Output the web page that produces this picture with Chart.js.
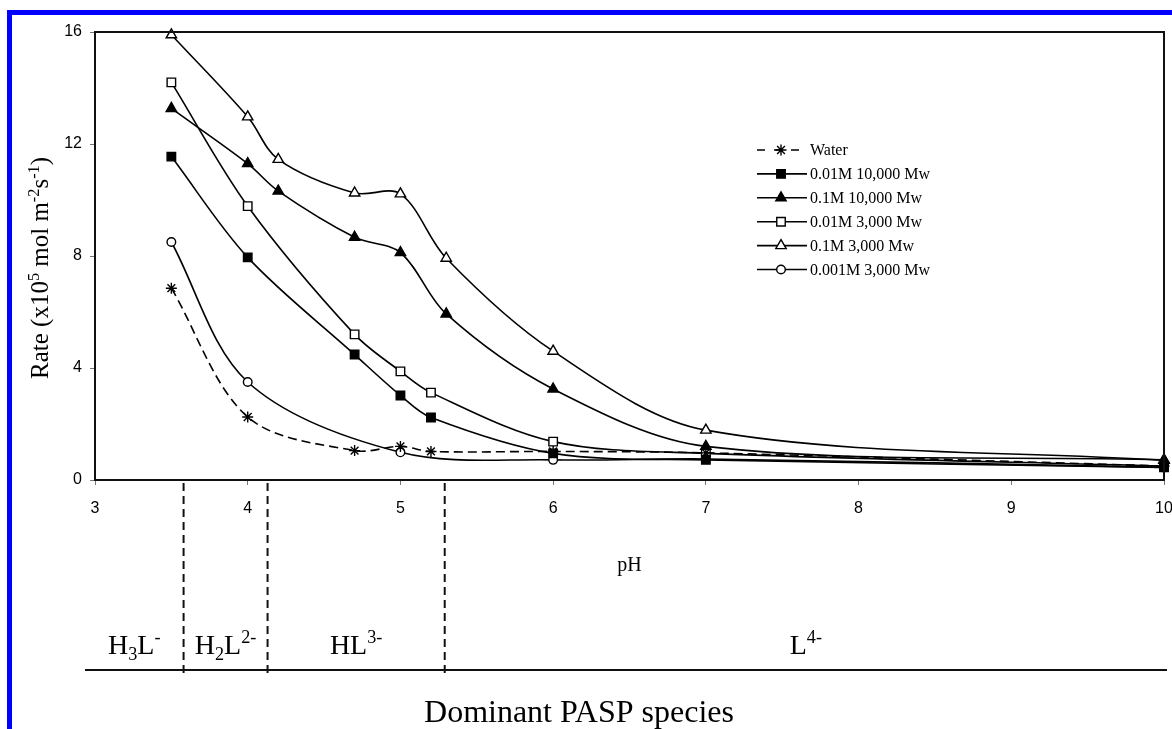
<!DOCTYPE html>
<html><head><meta charset="utf-8">
<script src="https://cdn.jsdelivr.net/npm/chart.js@4/dist/chart.umd.min.js"></script>
<style>html,body{margin:0;padding:0;background:#fff;overflow:hidden}#wrap{position:relative;width:1172px;height:729px}</style>
</head><body><div id="wrap"><canvas id="c" width="1172" height="729"></canvas></div>
<script>
// ---- data ----
const seriesLabels = ['Water', '0.01M 10,000 Mw', '0.1M 10,000 Mw', '0.01M 3,000 Mw', '0.1M 3,000 Mw', '0.001M 3,000 Mw'];
const pHWater   = [3.5, 4, 4.7, 5, 5.2, 6, 7, 10];
const rateWater = [6.85, 2.25, 1.05, 1.2, 1.02, 1.02, 0.97, 0.5];
const pH001M10k   = [3.5, 4, 4.7, 5, 5.2, 6, 7, 10];
const rate001M10k = [11.55, 7.95, 4.48, 3.02, 2.23, 0.95, 0.72, 0.45];
const pH01M10k   = [3.5, 4, 4.2, 4.7, 5, 5.3, 6, 7, 10];
const rate01M10k = [13.27, 11.3, 10.32, 8.67, 8.12, 5.93, 3.25, 1.2, 0.72];
const pH001M3k   = [3.5, 4, 4.7, 5, 5.2, 6, 7, 10];
const rate001M3k = [14.2, 9.78, 5.2, 3.88, 3.12, 1.37, 0.95, 0.5];
const pH01M3k   = [3.5, 4, 4.2, 4.7, 5, 5.3, 6, 7, 10];
const rate01M3k = [15.9, 12.97, 11.45, 10.25, 10.22, 7.92, 4.6, 1.78, 0.7];
const pH0001M3k   = [3.5, 4, 5, 6, 7, 10];
const rate0001M3k = [8.5, 3.5, 0.99, 0.72, 0.75, 0.45];
const xTicks = [3, 4, 5, 6, 7, 8, 9, 10];
const yTicks = [0, 4, 8, 12, 16];
// species boundaries (pH) and labels
const speciesBounds = [3.58, 4.13, 5.29];
const speciesLabels = [
  [['H', 0], ['3', -1], ['L', 0], ['-', 1]],
  [['H', 0], ['2', -1], ['L', 0], ['2-', 1]],
  [['HL', 0], ['3-', 1]],
  [['L', 0], ['4-', 1]]
];
const yTitle = [['Rate (x10', 0], ['5', 1], [' mol m', 0], ['-2', 1], ['s', 0], ['-1', 1], [')', 0]];
const xTitle = 'pH';
const bottomTitle = 'Dominant PASP species';

const SERIF = '"Liberation Serif","Times New Roman",serif';
const SANS = '"Liberation Sans",Arial,sans-serif';

function pts(xs, ys) { return xs.map((x, i) => ({ x: x, y: ys[i] })); }
function ds(label, xs, ys, style, filled, radius, dash) {
  return {
    label: label, data: pts(xs, ys),
    borderColor: '#000', borderWidth: 1.6, borderDash: dash || [],
    pointStyle: style, pointRadius: radius, pointHoverRadius: radius,
    pointBackgroundColor: filled ? '#000' : '#fff', pointBorderColor: '#000', pointBorderWidth: 1.4,
    tension: 0.33, clip: false, fill: false
  };
}
const datasets = [
  ds(seriesLabels[0], pHWater, rateWater, 'star', false, 5.5, [9, 5]),
  ds(seriesLabels[1], pH001M10k, rate001M10k, 'rect', true, 6),
  ds(seriesLabels[2], pH01M10k, rate01M10k, 'triangle', true, 6),
  ds(seriesLabels[3], pH001M3k, rate001M3k, 'rect', false, 6),
  ds(seriesLabels[4], pH01M3k, rate01M3k, 'triangle', false, 6),
  ds(seriesLabels[5], pH0001M3k, rate0001M3k, 'circle', false, 4.3)
];

function richWidth(ctx, parts, size) {
  let w = 0;
  for (const [t, m] of parts) { ctx.font = (m ? size * 0.65 : size) + 'px ' + SERIF; w += ctx.measureText(t).width; }
  return w;
}
function drawRich(ctx, parts, x, y, size) {
  let cx = x - richWidth(ctx, parts, size) / 2;
  ctx.textAlign = 'left'; ctx.textBaseline = 'alphabetic';
  for (const [t, m] of parts) {
    const s = m ? size * 0.65 : size;
    ctx.font = s + 'px ' + SERIF;
    const dy = m === 1 ? -size * 0.38 : (m === -1 ? size * 0.2 : 0);
    ctx.fillText(t, cx, y + dy);
    cx += ctx.measureText(t).width;
  }
}

const decor = {
  id: 'decor',
  beforeDraw(chart) {
    const ctx = chart.ctx;
    ctx.save();
    ctx.fillStyle = '#fff'; ctx.fillRect(0, 0, chart.width, chart.height);
    ctx.fillStyle = '#0000ff';
    ctx.fillRect(7, 10, chart.width - 7, 5);
    ctx.fillRect(7, 10, 5, chart.height - 10);
    ctx.restore();
  },
  afterDatasetsDraw(chart) {
    const ctx = chart.ctx, a = chart.chartArea;
    ctx.save();
    ctx.strokeStyle = '#111'; ctx.lineWidth = 2;
    ctx.strokeRect(a.left, a.top, a.right - a.left, a.bottom - a.top);
    ctx.restore();
  },
  afterDraw(chart) {
    const ctx = chart.ctx, a = chart.chartArea, xs = chart.scales.x;
    ctx.save();
    ctx.fillStyle = '#000';
    // y axis title
    ctx.save();
    ctx.translate(48, 268);
    ctx.rotate(-Math.PI / 2);
    drawRich(ctx, yTitle, 0, 0, 25);
    ctx.restore();
    // x axis title
    ctx.font = '20px ' + SERIF; ctx.textAlign = 'center'; ctx.textBaseline = 'alphabetic';
    ctx.fillText(xTitle, (a.left + a.right) / 2, 571);
    // species band
    const lineL = 85, lineR = 1167, lineY = 670;
    ctx.strokeStyle = '#111'; ctx.lineWidth = 2;
    ctx.beginPath(); ctx.moveTo(lineL, lineY); ctx.lineTo(lineR, lineY); ctx.stroke();
    const bx = speciesBounds.map(v => xs.getPixelForValue(v));
    ctx.setLineDash([8, 5]);
    for (const b of bx) { ctx.beginPath(); ctx.moveTo(b, 483); ctx.lineTo(b, 677); ctx.stroke(); }
    ctx.setLineDash([]);
    const edges = [lineL].concat(bx, [lineR]);
    speciesLabels.forEach((p, i) => drawRich(ctx, p, (edges[i] + edges[i + 1]) / 2, 654, 28));
    // bottom title
    ctx.font = '32px ' + SERIF; ctx.textAlign = 'center';
    ctx.fillText(bottomTitle, 579, 722);
    // legend
    const lx0 = 757, lx1 = 807, mx = 781, tx = 810, y0 = 150, dy = 23.9;
    chart.data.datasets.forEach((d, i) => {
      const y = y0 + i * dy;
      ctx.strokeStyle = '#000'; ctx.lineWidth = 1.6;
      ctx.setLineDash(d.borderDash && d.borderDash.length ? [8, 9] : []);
      ctx.beginPath(); ctx.moveTo(lx0, y); ctx.lineTo(lx1, y); ctx.stroke();
      ctx.setLineDash([]);
      ctx.fillStyle = d.pointBackgroundColor; ctx.strokeStyle = d.pointBorderColor; ctx.lineWidth = d.pointBorderWidth;
      Chart.helpers.drawPoint(ctx, { pointStyle: d.pointStyle, radius: d.pointRadius, rotation: 0, borderWidth: d.pointBorderWidth }, mx, y);
      ctx.fillStyle = '#000';
      ctx.font = '16px ' + SERIF; ctx.textAlign = 'left'; ctx.textBaseline = 'middle';
      ctx.fillText(d.label, tx, y + 1);
    });
    ctx.restore();
  }
};

new Chart(document.getElementById('c'), {
  type: 'line',
  data: { datasets: datasets },
  options: {
    responsive: false, animation: false, devicePixelRatio: 1,
    layout: { padding: { left: 0, top: 32, right: 8, bottom: 0 } },
    plugins: { legend: { display: false }, tooltip: { enabled: false } },
    events: [],
    scales: {
      x: {
        type: 'linear', min: 3, max: 10,
        afterBuildTicks: s => { s.ticks = xTicks.map(v => ({ value: v })); },
        afterFit: s => { s.height = 249; s.paddingLeft = 0; s.paddingRight = 0; },
        border: { display: false },
        grid: { display: true, drawOnChartArea: false, drawTicks: true, tickLength: 5, color: '#777' },
        ticks: { color: '#000', font: { family: SANS, size: 16 }, padding: 14, maxRotation: 0 }
      },
      y: {
        type: 'linear', min: 0, max: 16,
        afterBuildTicks: s => { s.ticks = yTicks.map(v => ({ value: v })); },
        afterFit: s => { s.width = 95; s.paddingTop = 0; s.paddingBottom = 0; },
        border: { display: false },
        grid: { display: true, drawOnChartArea: false, drawTicks: true, tickLength: 5, color: '#777' },
        ticks: { color: '#000', font: { family: SANS, size: 16 }, padding: 8 }
      }
    }
  },
  plugins: [decor]
});
</script>
</body></html>
